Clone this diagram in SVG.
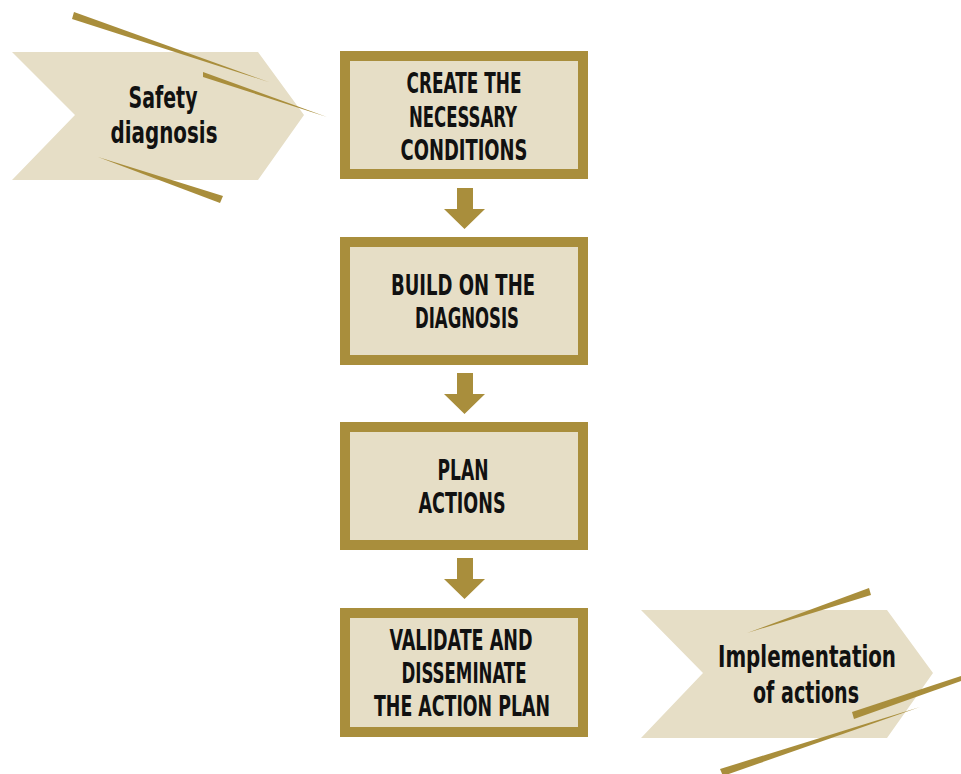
<svg xmlns="http://www.w3.org/2000/svg" width="961" height="774" viewBox="0 0 961 774">
<style>
.box{fill:#e6dec6;stroke:#a98e3c;stroke-width:10}
.chev{fill:#e6dec6}
.gold{fill:#a98e3c}
.t{font-family:"DejaVu Sans Condensed","DejaVu Sans","Liberation Sans",sans-serif;font-weight:bold;font-size:28px;fill:#111;text-anchor:middle}
.c{font-size:30px}
</style>
<rect width="961" height="774" fill="#ffffff"/>
<g id="safety-diagnosis">
<polygon class="chev" points="12,52 258,52 304,115 258,180 12,180 75,115"/>
<polygon class="gold" points="74,12 270,82.5 72,19"/>
<polygon class="gold" points="203,72 327,117 203,77"/>
<polygon class="gold" points="98,157 223,196 220,203"/>
<text class="t c" x="163" y="108" textLength="69" lengthAdjust="spacingAndGlyphs">Safety</text>
<text class="t c" x="164" y="143" textLength="107" lengthAdjust="spacingAndGlyphs">diagnosis</text>
</g>
<g id="implementation">
<polygon class="chev" points="641,610 887,610 933,673 887,738 641,738 703,673"/>
<polygon class="gold" points="747,633 869,588 871,595"/>
<polygon class="gold" points="852,712 961,676 961,681 854,719"/>
<polygon class="gold" points="920,707 720,769 723,776"/>
<text class="t c" x="807" y="667" textLength="178" lengthAdjust="spacingAndGlyphs">Implementation</text>
<text class="t c" x="806" y="703" textLength="106" lengthAdjust="spacingAndGlyphs">of actions</text>
</g>
<g id="box1">
<rect class="box" x="345" y="56" width="238" height="118"/>
<text class="t" x="464" y="93" textLength="115" lengthAdjust="spacingAndGlyphs">CREATE THE</text>
<text class="t" x="463" y="127" textLength="108" lengthAdjust="spacingAndGlyphs">NECESSARY</text>
<text class="t" x="464" y="160" textLength="127" lengthAdjust="spacingAndGlyphs">CONDITIONS</text>
</g>
<g id="box2">
<rect class="box" x="345" y="242" width="238" height="118"/>
<text class="t" x="463" y="295" textLength="144" lengthAdjust="spacingAndGlyphs">BUILD ON THE</text>
<text class="t" x="467" y="328" textLength="104" lengthAdjust="spacingAndGlyphs">DIAGNOSIS</text>
</g>
<g id="box3">
<rect class="box" x="345" y="427" width="238" height="118"/>
<text class="t" x="463" y="480" textLength="51" lengthAdjust="spacingAndGlyphs">PLAN</text>
<text class="t" x="462" y="513" textLength="87" lengthAdjust="spacingAndGlyphs">ACTIONS</text>
</g>
<g id="box4">
<rect class="box" x="345" y="613" width="238" height="119"/>
<text class="t" x="461" y="650" textLength="143" lengthAdjust="spacingAndGlyphs">VALIDATE AND</text>
<text class="t" x="464" y="683" textLength="125" lengthAdjust="spacingAndGlyphs">DISSEMINATE</text>
<text class="t" x="462" y="716" textLength="176" lengthAdjust="spacingAndGlyphs">THE ACTION PLAN</text>
</g>
<g id="connectors" class="gold">
<polygon points="457,188 473,188 473,209 485,209 464.5,229 444,209 457,209"/>
<polygon points="457,373 473,373 473,394 485,394 464.5,414 444,394 457,394"/>
<polygon points="457,558 473,558 473,579 485,579 464.5,599 444,579 457,579"/>
</g>
</svg>
